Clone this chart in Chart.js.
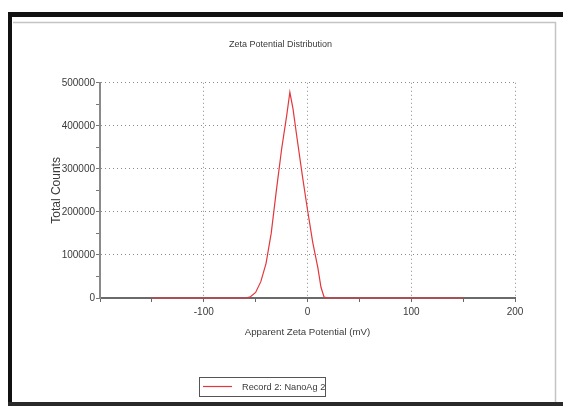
<!DOCTYPE html>
<html>
<head>
<meta charset="utf-8">
<script src="https://cdn.jsdelivr.net/npm/chart.js@4/dist/chart.umd.min.js"></script>
<style>
  html, body { margin: 0; padding: 0; background: #fff; }
  #wrap { width: 563px; height: 406px; }
</style>
</head>
<body>
<div id="wrap"><canvas id="zeta"></canvas></div>
<script>
// ── Data ──────────────────────────────────────────────────────────
const chartTitle  = 'Zeta Potential Distribution';
const xTitle      = 'Apparent Zeta Potential (mV)';
const yTitle      = 'Total Counts';
const seriesLabel = 'Record 2: NanoAg 2';

// apparent zeta potential (mV) and total counts
const zetaMv = [-150, -60, -55, -50, -45, -40, -35, -30, -25, -20, -17, -14, -10, -5, 0, 5, 10, 13, 16, 20, 150];
const counts = [0, 0, 3000, 13000, 38000, 80000, 150000, 250000, 345000, 425000, 478000, 440000, 370000, 285000, 205000, 130000, 70000, 25000, 2000, 0, 0];

const xLabels = ['-100', '0', '100', '200'];   // labelled x ticks
const yLabels = ['0', '100000', '200000', '300000', '400000', '500000'];

const SANS = "'Liberation Sans', Arial, sans-serif";

const clr = {
  line:   '#e2383c',
  grid:   'rgba(120,120,120,0.85)',
  axisX:  '#6a6a6a',
  axisY:  '#8a8a8a',
  text:   '#3a3a3a',
};

// ── Frame + legend drawn around the plot ─────────────────────────
const framePlugin = {
  id: 'frame',
  beforeDraw(chart) {
    const ctx = chart.ctx;
    ctx.save();
    ctx.fillStyle = '#fff';
    ctx.fillRect(0, 0, chart.width, chart.height);
    ctx.restore();
  },
  afterDraw(chart) {
    const ctx = chart.ctx;
    ctx.save();
    // outer black frame
    ctx.fillStyle = '#111';
    ctx.fillRect(8, 12, 555, 5);
    ctx.fillRect(8, 12, 4, 394);
    ctx.fillStyle = '#2a2a2a';
    ctx.fillRect(8, 402, 555, 4);
    // inner grey frame
    ctx.strokeStyle = '#c4c4c4';
    ctx.lineWidth = 1.5;
    ctx.beginPath();
    ctx.moveTo(13, 22.5); ctx.lineTo(555.5, 22.5); ctx.lineTo(555.5, 402);
    ctx.stroke();

    // legend box
    const ds = chart.data.datasets[0];
    ctx.strokeStyle = '#555';
    ctx.lineWidth = 1;
    ctx.strokeRect(199.5, 377.5, 126, 19);
    ctx.strokeStyle = ds.borderColor;
    ctx.lineWidth = 1.2;
    ctx.beginPath();
    ctx.moveTo(203, 386.5); ctx.lineTo(232, 386.5);
    ctx.stroke();
    ctx.fillStyle = clr.text;
    ctx.font = '9.2px ' + SANS;
    ctx.textBaseline = 'middle';
    ctx.fillText(ds.label, 242, 387.5);
    ctx.restore();
  },
};

const isMajorX = v => v % 100 === 0;
const isMajorY = v => v % 100000 === 0;

new Chart(document.getElementById('zeta'), {
  type: 'scatter',
  data: {
    datasets: [{
      label: seriesLabel,
      data: zetaMv.map((x, i) => ({ x, y: counts[i] })),
      showLine: true,
      borderColor: clr.line,
      backgroundColor: clr.line,
      borderWidth: 1.2,
      pointRadius: 0,
      tension: 0,
      clip: false,
    }],
  },
  options: {
    responsive: true,
    maintainAspectRatio: false,
    animation: false,
    layout: { padding: { top: 20, left: 46, right: 48, bottom: 64 } },
    plugins: {
      legend: { display: false },
      tooltip: { enabled: false },
      title: {
        display: true,
        text: chartTitle,
        color: clr.text,
        font: { family: SANS, size: 9, weight: 'normal', lineHeight: 1.2 },
        padding: { top: 19, bottom: 33 },
      },
    },
    scales: {
      x: {
        type: 'linear',
        min: -200,
        max: 200,
        afterFit: s => { s.height = 44; },
        border: { display: true, color: clr.axisX, width: 2, dash: [1, 3] },
        grid: {
          color: c => (isMajorX(c.tick.value) && c.tick.value > -200) ? clr.grid : 'transparent',
          tickColor: '#666',
          tickLength: 4,
          lineWidth: 1,
        },
        ticks: {
          stepSize: 50,
          autoSkip: false,
          maxRotation: 0,
          padding: 4,
          color: clr.text,
          font: { family: SANS, size: 10 },
          callback: v => xLabels.includes(String(v)) ? String(v) : '',
        },
        title: {
          display: true,
          text: xTitle,
          color: clr.text,
          font: { family: SANS, size: 9.7 },
          padding: { top: 0, bottom: 4 },
        },
      },
      y: {
        type: 'linear',
        min: 0,
        max: 500000,
        afterFit: s => { s.width = 54; },
        border: { display: true, color: clr.axisY, width: 2, dash: [1, 3] },
        grid: {
          color: c => (isMajorY(c.tick.value) && c.tick.value > 0) ? clr.grid : 'transparent',
          tickColor: '#777',
          tickLength: 4,
          lineWidth: 1,
        },
        ticks: {
          stepSize: 50000,
          autoSkip: false,
          padding: 1,
          color: clr.text,
          font: { family: SANS, size: 10 },
          callback: v => yLabels.includes(String(v)) ? String(v) : '',
        },
        title: {
          display: true,
          text: yTitle,
          color: clr.text,
          font: { family: SANS, size: 12 },
          padding: { top: 3, bottom: 0 },
        },
      },
    },
  },
  plugins: [framePlugin],
});
</script>
</body>
</html>
